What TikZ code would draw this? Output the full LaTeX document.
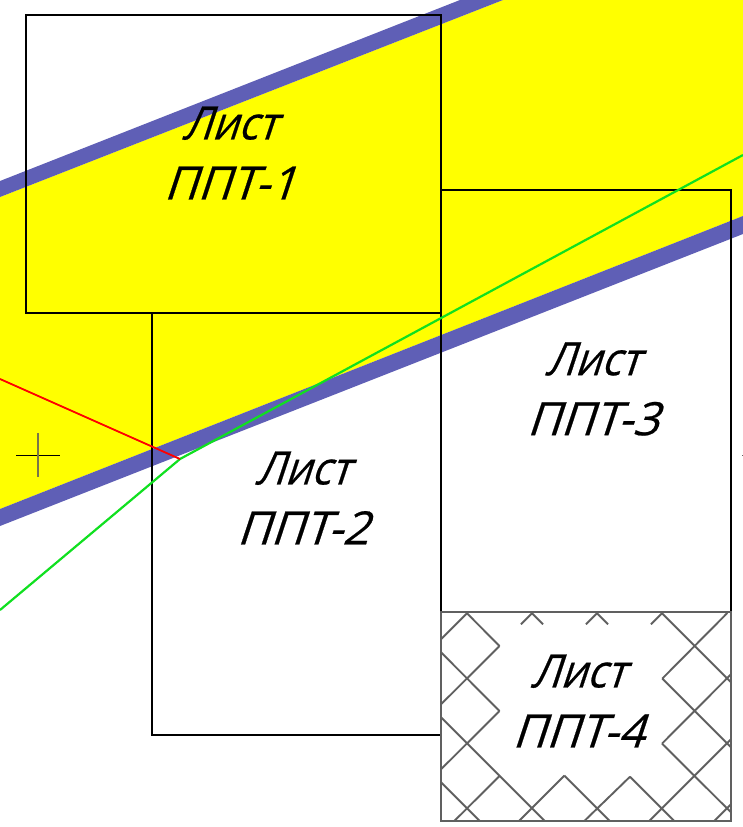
\documentclass[tikz,border=0pt]{standalone}
\usepackage{fontspec}
\newfontfamily\wordfont[FakeSlant=0.33,FakeStretch=0.9,FakeBold=0.5]{Open Sans}
\newfontfamily\codefont[FakeSlant=0.33,FakeStretch=1.0,FakeBold=0.5]{Open Sans}
\definecolor{bandblue}{HTML}{5F5FB6}
\definecolor{bandyellow}{HTML}{FFFF00}
\definecolor{hatchgray}{HTML}{606060}
\definecolor{linegreen}{HTML}{10E020}
\definecolor{linered}{HTML}{FF0000}
\newcommand{\sheetlabel}[2]{{\wordfont #1}\\{\codefont #2}}
\tikzset{
  x=1pt,y=-1pt,
  sheet/.style={draw=black,line width=2pt},
  sheetfour/.style={draw=hatchgray,line width=2.1pt},
  hatch/.style={draw=hatchgray,line width=1.9pt},
  label/.style={font=\fontsize{46}{60}\selectfont,align=center,text=black,inner sep=0pt},
  greenline/.style={draw=linegreen,line width=2.2pt},
  redline/.style={draw=linered,line width=1.8pt},
}
\begin{document}
\begin{tikzpicture}
\useasboundingbox (0,0) rectangle (743,827);
\fill[white] (0,0) rectangle (743,827);
% band
\fill[bandyellow] (503,0) -- (743,0) -- (743,216) -- (0,509) -- (0,197) -- cycle;
\fill[bandblue] (460,0) -- (503,0) -- (0,197) -- (0,181) -- cycle;
\fill[bandblue] (743,216) -- (743,234) -- (0,526) -- (0,509) -- cycle;
% sheet 4 hatch
\draw[hatch]
  (467,613.3)--(499.5,646) (441,652.3)--(499.5,711) (441,717.3)--(544.7,821) (441,782.3)--(479.7,821)
  (532,613.3)--(543,624.3) (597,613.3)--(608,624.3) (662,613.3)--(731,682.3)
  (662.3,678.6)--(731,747.3) (662,743.6)--(731,812.3) (630,776.7)--(674.3,821) (564.3,775.6)--(609.7,821)
  (467,613.3)--(441,639.3) (532,613.3)--(521,624.3) (499.5,646)--(441,704.3)
  (597,613.3)--(586,624.3) (499.5,711)--(441,769.3) (662,613.3)--(651,624.3) (499.5,776)--(454.3,821)
  (727.3,613)--(662.3,678.6) (564.3,775.6)--(519,821) (731,674.3)--(662,743.6) (630,776.7)--(584.3,821)
  (731,739.3)--(649.3,821) (731,804.3)--(714.3,821);
% sheets
\draw[sheet] (26,15) rectangle (441,313);
\draw[sheet] (152,313) rectangle (441,735);
\draw[sheet] (441,190) rectangle (731,612);
\draw[sheetfour] (441,612) rectangle (731,821);
% lines
\coordinate (gs) at (0,610);
\coordinate (kink) at (180,459);
\coordinate (ge) at (743,155);
\coordinate (rs) at (0,379);
\draw[greenline] (gs) -- (kink) -- (ge);
\draw[redline] (rs) -- (kink);
% cross
\coordinate (cl) at (16,455); \coordinate (cr) at (60,455);
\coordinate (ct) at (38,433); \coordinate (cb) at (38,477);
\draw[black,line width=0.9pt] (cl) -- (cr);
\draw[black!60!yellow,line width=1.3pt] (ct) -- (cb);
\fill[hatchgray] (741.5,454.5) rectangle (742.5,455.5);
% labels
\node[label] (l1) at (229.5,153) {\sheetlabel{Лист}{ППТ-1}};
\node[label] (l2) at (302.5,498) {\sheetlabel{Лист}{ППТ-2}};
\node[label] (l3) at (592.5,389) {\sheetlabel{Лист}{ППТ-3}};
\node[label] (l4) at (578,701) {\sheetlabel{Лист}{ППТ-4}};
\end{tikzpicture}
\end{document}
